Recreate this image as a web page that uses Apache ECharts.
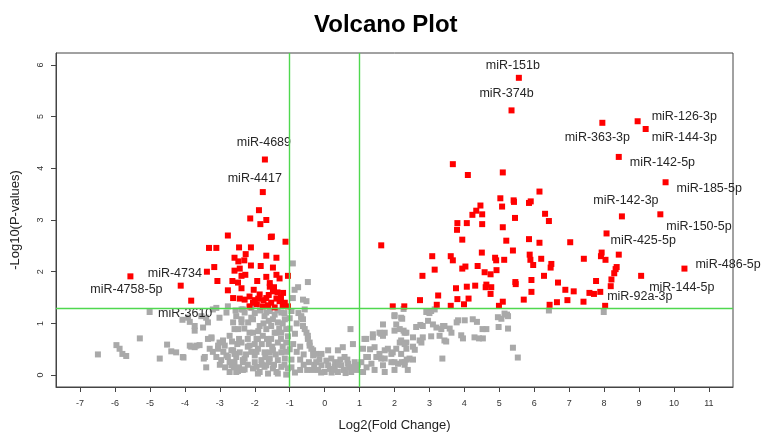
<!DOCTYPE html>
<html>
<head>
<meta charset="utf-8">
<script src="https://cdn.jsdelivr.net/npm/echarts@6/dist/echarts.min.js"></script>
<style>
html, body { margin: 0; padding: 0; background: #fff; }
#chart { width: 761px; height: 437px; }
</style>
</head>
<body>
<div id="chart"></div>
<script>
// tick labels
var xTicks = [-7, -6, -5, -4, -3, -2, -1, 0, 1, 2, 3, 4, 5, 6, 7, 8, 9, 10, 11]
var yTicks = [0, 1, 2, 3, 4, 5, 6]

// cut-offs (green lines)
var fcCut = [-1, 1]
var pCut = 1.3

// non significant points [log2FC, -log10 p]
var grayPts = [
  [-6.49,0.40],[-5.96,0.58],[-5.87,0.51],[-5.79,0.41],[-5.68,0.37],[-5.29,0.71],[-5.01,1.22],[-4.72,0.32],
  [-4.51,0.59],[-4.39,0.46],[-4.25,0.44],[-4.04,0.34],[-4.07,1.07],[-3.86,1.03],[-3.72,0.86],[-3.82,0.55],
  [-3.67,0.57],[-3.58,0.58],[-3.46,0.32],[-3.39,0.15],[-3.29,0.51],[-3.24,0.71],[-3.72,0.95],[-3.91,1.11],
  [-3.48,0.92],[-3.39,1.11],[-3.53,1.14],[-3.34,1.02],[-3.10,1.30],[-3.01,0.63],[-3.05,0.57],[-2.91,0.67],
  [-2.81,0.38],[-2.72,0.06],[-2.48,0.08],[-2.67,0.19],[-2.62,0.48],[-2.53,0.35],[-2.43,0.44],[-2.34,0.29],
  [-3.01,1.11],[-2.81,1.21],[-2.62,1.02],[-2.58,0.89],[-2.72,0.76],[-2.38,1.08],[-2.34,1.27],[-2.10,1.30],
  [-2.05,1.08],[-2.15,0.82],[-1.95,0.70],[-2.15,0.57],[-2.05,0.13],[-1.86,0.06],[-1.67,0.19],[-1.67,1.21],
  [-1.48,1.08],[-1.38,0.82],[-1.57,0.44],[-1.38,0.06],[-2.77,1.33],[-3.20,1.27],[-2.29,0.11],[-3.34,0.70],
  [-3.24,0.73],[-3.86,0.57],[-3.72,0.54],[-4.06,0.35],[-3.43,0.35],[-3.05,0.51],[-2.86,0.57],[-2.77,0.35],
  [-3.10,0.35],[-2.96,0.29],[-2.53,0.06],[-2.34,0.10],[-2.67,0.48],[-2.58,0.41],[-2.29,0.32],[-2.34,0.25],
  [-2.58,0.25],[-2.72,0.25],[-2.38,0.63],[-2.48,0.89],[-2.38,1.02],[-2.53,1.14],[-2.29,1.21],[-2.38,1.27],
  [-2.19,1.02],[-2.10,1.11],[-2.05,0.82],[-1.91,0.70],[-1.86,0.95],[-1.72,1.14],[-1.57,1.24],[-1.43,1.17],
  [-1.24,1.21],[-1.14,1.08],[-1.34,1.02],[-1.53,0.95],[-1.67,0.89],[-1.43,0.82],[-1.24,0.82],[-1.10,0.89],
  [-1.77,0.76],[-1.53,0.70],[-1.34,0.63],[-1.10,0.63],[-1.91,0.51],[-1.72,0.44],[-1.48,0.48],[-1.24,0.44],
  [-2.00,0.38],[-1.81,0.29],[-1.57,0.32],[-1.34,0.29],[-1.14,0.32],[-1.95,0.16],[-1.72,0.16],[-1.48,0.13],
  [-1.24,0.16],[-1.05,0.13],[-1.91,0.03],[-1.62,0.03],[-1.34,0.03],[-1.10,0.01],
  [-2.20,0.20],[-2.10,0.45],[-2.00,0.60],[-1.80,0.60],[-1.60,0.60],[-1.90,0.85],[-1.75,1.00],[-1.60,1.05],
  [-1.20,1.00],[-1.15,1.20],[-1.00,1.10],[-1.00,0.90],[-1.05,0.75],[-1.00,0.50],[-1.20,0.55],[-1.40,0.40],
  [-1.60,0.25],[-1.80,0.20],[-2.00,0.25],[-2.20,0.70],[-2.30,0.90],[-2.20,0.55],[-1.30,0.90],[-1.45,0.20],
  [-1.15,0.20],[-1.70,0.35],[-2.45,0.15],[-2.60,0.15],[-2.85,0.15],[-3.00,0.20],[-2.50,0.60],[-2.90,0.45],
  [-3.20,0.45],[-1.85,1.25],[-2.00,1.20],[-1.35,1.25],[-1.65,0.70],[-1.50,0.55],[-1.95,0.45],[-2.25,0.40],
  [-2.45,0.70],[-2.65,0.65],[-2.55,1.25],[-1.25,0.70],[-1.10,0.45],[-0.95,0.30],[-0.95,0.15],[-0.90,0.60],
  [-0.85,0.80],[-0.80,1.00],[-0.75,1.20],[-0.80,0.45],[-0.85,0.05],[-0.70,0.10],[-0.70,0.30],[-0.70,0.55],
  [-0.60,0.20],[-0.60,0.40],[-0.50,0.10],[-0.45,0.25],[-0.35,0.10],[-0.30,0.20],
  [-0.91,2.16],[-0.48,1.80],[-0.76,1.70],[-0.86,1.65],[-0.62,1.46],[-0.91,1.49],[-0.52,1.43],[-0.57,1.27],
  [-0.67,1.11],[-0.62,0.95],[-0.52,0.82],[-0.48,0.70],[-0.43,0.57],[-0.33,0.48],[-0.24,0.41],[-0.95,1.24],
  [-0.67,1.14],[-0.62,1.08],[-0.57,0.89],[-0.48,0.76],[-0.43,0.63],[-0.38,0.51],[-0.33,0.38],[-0.24,0.25],
  [-0.09,0.19],[0.10,0.19],[0.29,0.16],[0.48,0.19],[0.67,0.22],[0.86,0.25],[-0.09,0.41],[0.10,0.48],
  [0.38,0.48],[0.52,0.54],[0.81,0.60],[0.74,0.89],[0.19,0.32],[0.57,0.35],[-0.19,0.10],[0.00,0.06],
  [0.38,0.06],[0.76,0.06],[1.10,0.06],[0.20,0.05],[0.55,0.10],[0.90,0.10],[-0.10,0.05],[0.15,0.12],
  [0.45,0.30],[0.70,0.15],[0.30,0.25],[0.95,0.20],[0.05,0.28],[0.25,0.10],[0.60,0.04],[0.85,0.16],
  [-0.15,0.30],[0.40,0.20],[0.65,0.30],
  [1.14,0.70],[1.38,0.73],[1.43,0.54],[1.67,0.98],[1.72,0.82],[1.67,0.76],[2.00,1.14],[2.19,1.11],
  [2.05,0.98],[2.00,0.86],[2.15,0.89],[2.29,0.82],[2.15,0.63],[2.34,0.63],[1.72,0.48],[1.91,0.41],
  [2.05,0.51],[2.19,0.41],[1.24,0.35],[1.48,0.35],[1.62,0.32],[1.34,0.22],[1.67,0.19],[1.91,0.25],
  [2.10,0.22],[2.29,0.25],[1.43,0.10],[1.72,0.06],[2.00,0.10],[2.38,0.10],[1.38,0.79],[1.19,0.70],
  [1.10,0.51],[1.19,0.35],[1.57,0.41],[1.81,0.51],[1.57,0.82],[1.20,0.15],[1.05,0.25],[1.30,0.50],
  [2.26,1.28],[2.91,1.22],[3.05,1.24],[3.15,1.27],[2.22,1.09],[2.62,0.93],[2.74,0.97],[2.96,1.05],
  [3.10,0.98],[3.20,0.92],[3.34,0.89],[3.43,0.95],[3.58,0.90],[3.82,1.06],[4.01,1.06],[4.24,1.08],
  [4.36,1.03],[4.63,0.89],[4.96,1.12],[5.06,1.09],[5.22,1.17],[4.98,0.93],[5.25,0.90],[2.26,0.86],
  [2.34,0.82],[2.53,0.73],[2.81,0.73],[2.72,0.67],[3.05,0.75],[3.29,0.76],[3.43,0.67],[3.63,0.82],
  [3.91,0.77],[3.96,0.71],[4.29,0.73],[4.53,0.71],[2.19,0.67],[2.29,0.60],[2.34,0.51],[2.58,0.49],
  [5.39,0.53],[5.53,0.34],[3.37,0.32],[2.43,0.32],[2.53,0.30],[2.29,0.20],[2.21,0.25],[5.15,1.19],
  [5.25,1.14],[6.42,1.25],[7.99,1.22],[2.00,1.16],[3.00,1.20],[2.81,0.95],[3.39,0.95],[3.78,1.02],
  [4.52,0.89],[4.42,0.71],[3.48,0.65],[2.77,0.63],[2.53,0.55],[1.95,0.44],[2.00,0.25],[1.72,0.32],
  [1.62,0.80],[2.35,0.30]
]

// significant points without a label
var redPts = [
  [3.67,4.08],[4.10,3.87],[5.10,3.92],[6.15,3.55],[5.03,3.42],[5.41,3.38],[5.42,3.35],[5.85,3.33],
  [5.90,3.36],[4.46,3.28],[4.34,3.18],[4.23,3.10],[4.51,3.11],[5.08,3.26],[6.31,3.12],[6.42,2.98],
  [5.45,3.04],[3.80,2.94],[3.79,2.81],[4.07,2.94],[4.51,2.92],[5.10,2.86],[3.94,2.62],[5.20,2.60],
  [5.85,2.63],[6.15,2.56],[1.62,2.51],[5.39,2.41],[4.50,2.37],[3.08,2.30],[3.61,2.30],[3.67,2.22],
  [4.88,2.27],[4.91,2.22],[5.14,2.23],[5.87,2.33],[5.89,2.23],[6.20,2.25],[5.97,2.13],[6.49,2.15],
  [6.47,2.08],[4.03,2.10],[3.94,2.06],[3.15,2.04],[4.38,2.11],[2.80,1.92],[4.58,1.99],[4.75,1.95],
  [4.92,2.03],[6.28,1.92],[5.46,1.80],[5.47,1.76],[5.92,1.84],[6.68,1.79],[3.25,1.54],[3.76,1.68],
  [4.07,1.71],[4.31,1.73],[4.63,1.75],[4.61,1.70],[4.77,1.70],[4.75,1.57],[5.92,1.61],[2.73,1.45],
  [3.80,1.47],[4.12,1.48],[5.70,1.46],[3.21,1.36],[3.61,1.34],[3.99,1.37],[5.10,1.42],[4.99,1.34],
  [6.44,1.36],[6.65,1.41],[1.95,1.33],[2.28,1.33],
  [7.03,2.57],[7.42,2.25],[7.93,2.37],[7.91,2.30],[8.04,2.23],[8.42,2.33],[8.36,2.09],[8.33,2.05],
  [8.29,1.97],[8.21,1.85],[8.19,1.72],[6.89,1.65],[7.13,1.62],[7.77,1.82],[7.58,1.59],[7.71,1.57],
  [7.89,1.61],[6.95,1.45],[7.41,1.42],
  [-4.12,1.73],[-3.10,2.46],[-3.31,2.46],[-2.77,2.70],[-3.16,2.09],[-3.07,1.82],[-1.84,2.92],[-1.54,2.67],
  [-1.12,2.58],[-2.45,2.47],[-2.11,2.47],[-2.26,2.34],[-2.58,2.27],[-1.67,2.31],[-1.38,2.27],[-2.47,2.20],
  [-2.30,2.22],[-2.11,2.12],[-1.83,2.11],[-1.48,2.08],[-2.43,2.06],[-2.58,2.02],[-2.27,1.94],[-2.38,1.92],
  [-1.67,1.90],[-1.38,1.94],[-1.29,1.87],[-2.64,1.82],[-2.48,1.79],[-1.93,1.82],[-1.57,1.78],[-1.05,1.92],
  [-2.38,1.68],[-2.03,1.65],[-2.77,1.64],[-1.57,1.71],[-1.48,1.62],[-1.19,1.59],[-1.86,1.56],[-2.15,1.52],
  [-2.62,1.49],[-2.43,1.48],[-2.29,1.46],[-1.67,1.49],[-1.38,1.48],[-1.29,1.43],[-2.05,1.40],[-1.94,1.37],
  [-1.53,1.40],[-1.14,1.40],[-1.05,1.33],[-1.77,1.33],[-1.43,1.31],[-2.15,1.33],[-1.88,3.19],[-2.13,3.03],
  [-1.67,3.00],[-1.51,2.68],[-1.60,1.55],[-1.45,1.70],[-1.75,1.45],[-1.20,1.35],[-1.62,1.35],[-1.35,1.60],
  [-2.00,1.45],[-1.25,1.50],[-1.90,1.48]
]

// labelled miRNAs
var labelNames = ['miR-151b', 'miR-374b', 'miR-126-3p', 'miR-363-3p', 'miR-144-3p', 'miR-142-5p',
  'miR-185-5p', 'miR-142-3p', 'miR-150-5p', 'miR-425-5p', 'miR-486-5p', 'miR-144-5p', 'miR-92a-3p',
  'miR-4689', 'miR-4417', 'miR-4734', 'miR-4758-5p', 'miR-3610']
var labelFC = [5.56, 5.35, 8.96, 7.95, 9.19, 8.42, 9.76, 8.51, 9.61, 8.07, 10.30, 9.06, 8.03,
  -1.71, -1.77, -3.37, -5.56, -3.82]
var labelP = [5.75, 5.12, 4.91, 4.88, 4.76, 4.22, 3.73, 3.07, 3.11, 2.74, 2.06, 1.92, 1.34,
  4.17, 3.54, 2.00, 1.91, 1.44]

// where each label sits next to its point: [align, dx, dy]
var labelPlace = {
  'miR-151b': ['center', -6, -12],
  'miR-374b': ['center', -5, -17],
  'miR-126-3p': ['left', 14, -5],
  'miR-363-3p': ['center', -5, 15],
  'miR-144-3p': ['left', 6, 9],
  'miR-142-5p': ['left', 11, 6],
  'miR-185-5p': ['left', 11, 6],
  'miR-142-3p': ['center', 4, -16],
  'miR-150-5p': ['left', 6, 12],
  'miR-425-5p': ['left', 4, 7],
  'miR-486-5p': ['left', 11, -4],
  'miR-144-5p': ['left', 8, 12],
  'miR-92a-3p': ['left', 2, -9],
  'miR-4689': ['center', -1, -17],
  'miR-4417': ['center', -8, -14],
  'miR-4734': ['right', -5, 2],
  'miR-4758-5p': ['center', -4, 13],
  'miR-3610': ['center', -6, 13]
}

var font = 'Liberation Sans, Arial, sans-serif'

var labelled = labelNames.map(function (n, i) {
  var p = labelPlace[n]
  return {
    name: n,
    value: [labelFC[i], labelP[i]],
    label: {
      show: true,
      formatter: n,
      position: 'inside',
      align: p[0],
      verticalAlign: 'middle',
      offset: [p[1], p[2]],
      color: '#262626',
      fontSize: 12.5,
      fontFamily: font
    }
  }
})

var myChart = echarts.init(document.getElementById('chart'))
var option = {
  animation: false,
  backgroundColor: '#fff',
  title: {
    text: 'Volcano Plot',
    left: 309,
    top: 8,
    textStyle: { fontSize: 24, fontWeight: 'bold', color: '#000', fontFamily: font }
  },
  grid: {
    left: 56, right: 28, top: 53, bottom: 45,
    show: true, borderColor: '#444', borderWidth: 1
  },
  xAxis: {
    type: 'value',
    min: -7.69, max: 11.69,
    name: 'Log2(Fold Change)',
    nameLocation: 'middle',
    nameGap: 32,
    nameTextStyle: { fontSize: 13, color: '#222', fontFamily: font },
    axisLine: { show: true, onZero: false, lineStyle: { color: '#444' } },
    axisTick: { show: true, length: 5, customValues: xTicks, lineStyle: { color: '#444' } },
    axisLabel: { customValues: xTicks, fontSize: 9, margin: 12, color: '#333', fontFamily: font },
    splitLine: { show: false }
  },
  yAxis: {
    type: 'value',
    min: -0.23, max: 6.23,
    name: '-Log10(P-values)',
    nameLocation: 'middle',
    nameGap: 34,
    nameRotate: 90,
    nameTextStyle: { fontSize: 13, color: '#222', fontFamily: font },
    axisLine: { show: true, onZero: false, lineStyle: { color: '#444' } },
    axisTick: { show: true, length: 5, customValues: yTicks, lineStyle: { color: '#444' } },
    axisLabel: { customValues: yTicks, rotate: 90, fontSize: 9, margin: 11, color: '#333', fontFamily: font },
    splitLine: { show: false }
  },
  series: [
    {
      name: 'ns',
      type: 'scatter',
      symbol: 'rect',
      symbolSize: 6,
      itemStyle: { color: '#a9a9a9', opacity: 1 },
      data: grayPts,
      z: 2
    },
    {
      name: 'cut',
      type: 'scatter',
      data: [],
      z: 3,
      markLine: {
        silent: true,
        symbol: ['none', 'none'],
        label: { show: false },
        lineStyle: { color: '#4fd84f', width: 1.4, type: 'solid', opacity: 1 },
        data: [{ xAxis: fcCut[0] }, { xAxis: fcCut[1] }, { yAxis: pCut }]
      }
    },
    {
      name: 'sig',
      type: 'scatter',
      symbol: 'rect',
      symbolSize: 6,
      itemStyle: { color: '#ff0000', opacity: 1 },
      data: redPts.concat(labelled),
      z: 4
    }
  ]
}
myChart.setOption(option)
</script>
</body>
</html>
